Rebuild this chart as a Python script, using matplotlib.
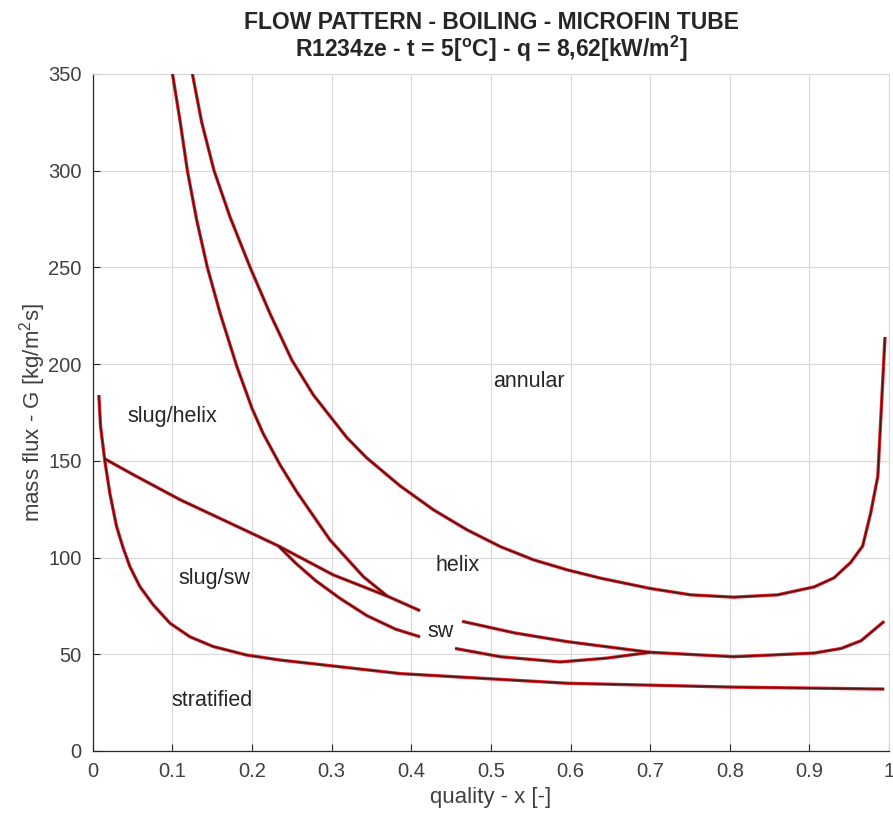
import matplotlib
matplotlib.use("Agg")
import matplotlib.pyplot as plt

plt.rcParams['font.family'] = ['Liberation Sans', 'DejaVu Sans']
plt.rcParams['mathtext.fontset'] = 'custom'
plt.rcParams['mathtext.rm'] = 'Liberation Sans'
plt.rcParams['mathtext.bf'] = 'Liberation Sans:bold'

# Transition boundaries (vapour quality x, mass flux G in kg/m2s)
annular_x = [0.125, 0.1367, 0.1522, 0.1723, 0.1975, 0.2226, 0.25, 0.277, 0.319, 0.344,
             0.386, 0.428, 0.47, 0.512, 0.5535, 0.596, 0.638, 0.70, 0.751, 0.805,
             0.86, 0.906, 0.931, 0.952, 0.967, 0.977, 0.986, 0.995]
annular_G = [350, 325, 300, 276, 250, 226, 202, 184, 162, 151.5,
             137, 124.6, 114.3, 105.6, 98.8, 93.6, 89.3, 84, 80.7, 79.5,
             80.7, 84.8, 89.5, 97.5, 106, 123, 142, 214]

helix_x = [0.1, 0.1094, 0.1187, 0.1304, 0.1438, 0.16, 0.181, 0.2, 0.214, 0.235, 0.256,
           0.298, 0.34, 0.37]
helix_G = [350, 326, 300, 274.5, 250, 226, 198.6, 177, 164, 148, 134,
           109, 90, 80]

slug_x = [0.015, 0.05, 0.109, 0.197, 0.233, 0.302, 0.37, 0.411]
slug_G = [151, 143, 130, 113, 106, 91, 80, 72.5]

branch_x = [0.233, 0.255, 0.28, 0.31, 0.344, 0.38, 0.411]
branch_G = [106, 97, 88, 79, 70, 63, 59]

strat_x = [0.0075, 0.0097, 0.015, 0.0214, 0.0298, 0.038, 0.0465, 0.059, 0.0759, 0.097,
           0.122, 0.151, 0.193, 0.235, 0.3, 0.386, 0.596, 0.805, 0.994]
strat_G = [184, 167.7, 150, 133, 116, 105, 95.3, 85, 75.5, 66,
           59, 54, 49.6, 47, 44, 40, 35, 33, 32]

sw_up_x = [0.464, 0.53, 0.596, 0.70, 0.805, 0.906, 0.94, 0.965, 0.994]
sw_up_G = [67, 61, 56.5, 51, 48.7, 50.6, 53, 57, 67]

sw_low_x = [0.455, 0.512, 0.587, 0.646, 0.70]
sw_low_G = [53, 48.7, 46, 48, 51]

region_names = ["annular", "slug/helix", "slug/sw", "helix", "sw", "stratified"]
region_x = [0.548, 0.10, 0.153, 0.4587, 0.437, 0.15]
region_G = [191, 173, 89, 96, 61.5, 26]

x_ticks = [0, 0.1, 0.2, 0.3, 0.4, 0.5, 0.6, 0.7, 0.8, 0.9, 1]
x_ticklabels = ["0", "0.1", "0.2", "0.3", "0.4", "0.5", "0.6", "0.7", "0.8", "0.9", "1"]
G_ticks = [0, 50, 100, 150, 200, 250, 300, 350]

fig = plt.figure(figsize=(8.93, 8.21), dpi=100)
ax = fig.add_axes([0.104, 0.0853, 0.8915, 0.8247])

curves = [(annular_x, annular_G), (helix_x, helix_G), (slug_x, slug_G),
          (branch_x, branch_G), (strat_x, strat_G), (sw_up_x, sw_up_G),
          (sw_low_x, sw_low_G)]
for cx, cG in curves:
    ax.plot(cx, cG, color='#e8202a', lw=2.4, solid_capstyle='butt',
            solid_joinstyle='round', zorder=3)
    ax.plot(cx, cG, color='#4a1515', lw=1.1, solid_capstyle='butt',
            solid_joinstyle='round', zorder=4)

for name, tx, tG in zip(region_names, region_x, region_G):
    ax.text(tx, tG, name, ha='center', va='center', fontsize=15.5, color='#262626', zorder=5)

ax.set_xlim(0, 1)
ax.set_ylim(0, 350)
ax.set_xticks(x_ticks)
ax.set_xticklabels(x_ticklabels)
ax.set_yticks(G_ticks)
ax.tick_params(direction='in', length=5, width=0.8, colors='#262626',
               labelsize=14.5, labelcolor='#404040', pad=8)
ax.grid(True, color='#d9d9d9', lw=0.8)
ax.set_axisbelow(True)
for side in ['top', 'right']:
    ax.spines[side].set_color('#d9d9d9')
for side in ['left', 'bottom']:
    ax.spines[side].set_color('#262626')
    ax.spines[side].set_linewidth(0.9)

ax.set_xlabel('quality - x [-]', fontsize=16, color='#404040', labelpad=4)
ax.set_ylabel('mass flux - G [kg/m$^2$s]', fontsize=16, color='#404040', labelpad=0)

fig.text(0.55, 0.973, 'FLOW PATTERN - BOILING - MICROFIN TUBE', ha='center', va='center',
         fontsize=16.5, fontweight='bold', color='#262626')
fig.text(0.55, 0.940, r'R1234ze - t = 5[$^{\mathbf{o}}$C] - q = 8,62[kW/m$^{\mathbf{2}}$]',
         ha='center', va='center', fontsize=16.5, fontweight='bold', color='#262626')

fig.savefig('out.png', dpi=100)
